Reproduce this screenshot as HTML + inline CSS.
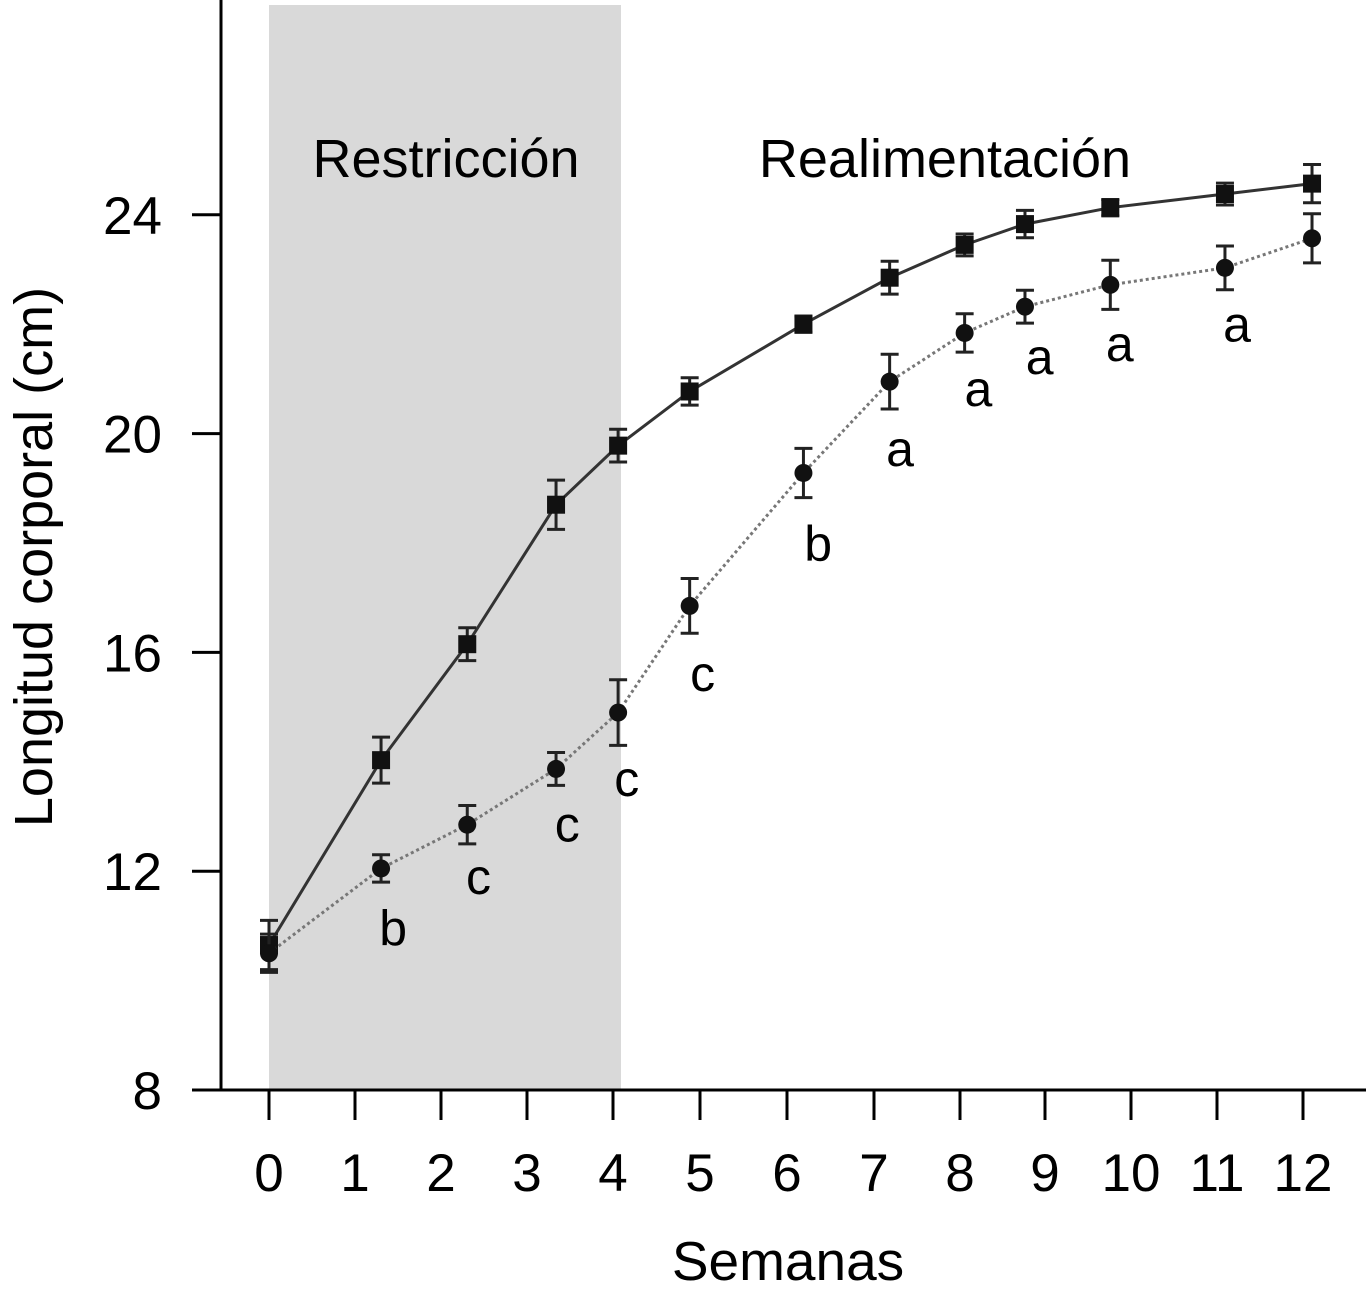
<!DOCTYPE html>
<html><head><meta charset="utf-8"><style>
html,body{margin:0;background:#fff;overflow:hidden}
svg{display:block;font-family:"Liberation Sans",Arial,sans-serif}
</style></head><body>
<svg id="c" width="1366" height="1297"></svg>
<script>
const weeksX=[0,1.3,2.3,3.33,4.05,4.88,6.2,7.2,8.07,8.77,9.76,11.09,12.1];
const controlVals=[10.65,14.03,16.15,18.7,19.78,20.77,22.0,22.85,23.45,23.83,24.13,24.38,24.57];
const controlErr=[0.45,0.42,0.3,0.45,0.3,0.25,0.15,0.3,0.2,0.25,0.15,0.2,0.35];
const restrVals=[10.5,12.05,12.85,13.87,14.9,16.85,19.28,20.95,21.84,22.32,22.72,23.03,23.57];
const restrErr=[0.35,0.25,0.35,0.3,0.6,0.5,0.45,0.5,0.35,0.3,0.45,0.4,0.45];
const letters=["","b","c","c","c","c","b","a","a","a","a","a",""];
const letterX=[0,1.44,2.43,3.46,4.15,5.03,6.37,7.32,8.23,8.94,9.87,11.23,0];
const letterY=[0,10.93,11.88,12.84,13.67,15.59,17.96,19.7,20.8,21.38,21.62,21.98,0];
const xTicks=[0,1,2,3,4,5,6,7,8,9,10,11,12];
const xTickPos=[269,355,441,527,613,700,787,874,960,1045,1131,1217,1303];
const yTicks=[8,12,16,20,24];
const NS="http://www.w3.org/2000/svg",svg=document.getElementById('c');
const X=w=>269+w*86.2, Y=v=>1090-(v-8)*54.7;
function mk(t,a,txt){const e=document.createElementNS(NS,t);for(const k in a)e.setAttribute(k,a[k]);if(txt!==undefined)e.textContent=txt;svg.appendChild(e);return e;}
let e;
e=mk('rect',{x:269,y:5,width:352,height:1085,fill:'#d9d9d9'});


e=mk('line',{x1:221,y1:0,x2:221,y2:1090,stroke:'#000','stroke-width':3});


e=mk('line',{x1:192,y1:1090,x2:1366,y2:1090,stroke:'#000','stroke-width':3});


yTicks.forEach(v=>{
 e=mk('line',{x1:192,y1:Y(v),x2:221,y2:Y(v),stroke:'#000','stroke-width':3});
 
 
 e=mk('text',{x:162,y:Y(v)+19,'font-size':53,'text-anchor':'end'},v);
 
 
});
xTicks.forEach((t,i)=>{
 const x=xTickPos[i];
 e=mk('line',{x1:x,y1:1090,x2:x,y2:1120,stroke:'#000','stroke-width':3});
 
 
 e=mk('text',{x:x,y:1191,'font-size':53,'text-anchor':'middle'},t);
 
 
});
e=mk('text',{x:788,y:1280,'font-size':55,'text-anchor':'middle'},'Semanas');


e=mk('text',{x:0,y:0,'font-size':54,'text-anchor':'middle',transform:'translate(52,557) rotate(-90)'},'Longitud corporal (cm)');


e=mk('text',{x:446,y:177,'font-size':54,'text-anchor':'middle'},'Restricción');


e=mk('text',{x:945,y:177,'font-size':54,'text-anchor':'middle'},'Realimentación');


function series(vals,err,name,dash,col,shape){
 e=mk('polyline',{points:vals.map((v,i)=>X(weeksX[i])+','+Y(v)).join(' '),fill:'none',stroke:col,'stroke-width':3,'stroke-dasharray':dash});
 
 
 vals.forEach((v,i)=>{
  const x=X(weeksX[i]),y1=Y(v+err[i]),y2=Y(v-err[i]);
  e=mk('path',{d:`M${x},${y1}V${y2}M${x-9},${y1}H${x+9}M${x-9},${y2}H${x+9}`,stroke:'#222','stroke-width':3,fill:'none'});
  
  
  if(shape==='sq') e=mk('rect',{x:x-9,y:Y(v)-9,width:18,height:18,fill:'#111'});
  else e=mk('circle',{cx:x,cy:Y(v),r:9,fill:'#111'});
  
  
 });
}
series(controlVals,controlErr,'control','none','#333','sq');
series(restrVals,restrErr,'restricted','3,3','#777','ci');
letters.forEach((l,i)=>{ if(!l)return;
 e=mk('text',{x:X(letterX[i]),y:Y(letterY[i])+16,'font-size':50,'text-anchor':'middle'},l);
 
 
});
</script>
</body></html>
